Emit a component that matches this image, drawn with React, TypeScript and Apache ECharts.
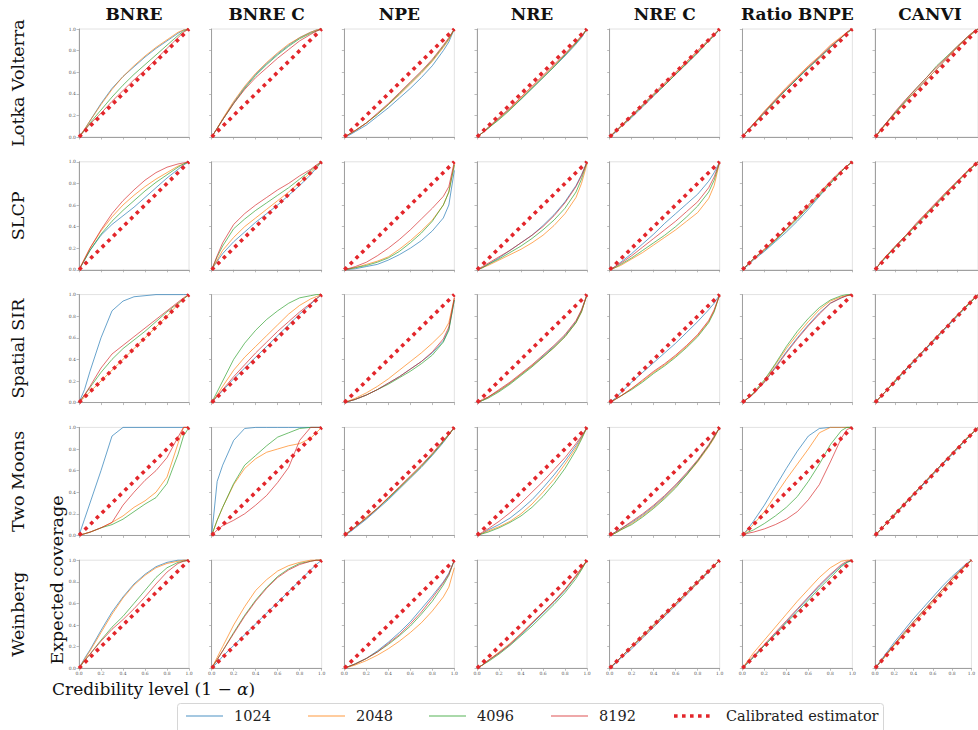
import React, { useEffect, useRef } from "react";
import * as echarts from "echarts";

const methods = ["BNRE", "BNRE C", "NPE", "NRE", "NRE C", "Ratio BNPE", "CANVI"];
const benchmarks = ["Lotka Volterra", "SLCP", "Spatial SIR", "Two Moons", "Weinberg"];
const budgets = ["1024", "2048", "4096", "8192"];
const calibratedName = "Calibrated estimator";
const levels = [0, 0.05, 0.1, 0.2, 0.3, 0.4, 0.5, 0.6, 0.7, 0.8, 0.9, 0.95, 1];

// each panel: [1024, 2048, 4096, 8192] coverage at the credibility levels above
// Lotka Volterra
const lvBnre = [
  [0, 0.07, 0.15, 0.31, 0.45, 0.56, 0.65, 0.74, 0.82, 0.89, 0.96, 0.99, 1],
  [0, 0.07, 0.15, 0.3, 0.44, 0.56, 0.66, 0.75, 0.83, 0.9, 0.97, 0.99, 1],
  [0, 0.06, 0.13, 0.25, 0.37, 0.48, 0.58, 0.67, 0.76, 0.85, 0.94, 0.98, 1],
  [0, 0.06, 0.12, 0.22, 0.33, 0.43, 0.53, 0.62, 0.72, 0.82, 0.92, 0.97, 1],
];
const lvBnreC = [
  [0, 0.08, 0.16, 0.32, 0.46, 0.58, 0.68, 0.77, 0.85, 0.92, 0.97, 0.99, 1],
  [0, 0.08, 0.17, 0.33, 0.47, 0.59, 0.69, 0.78, 0.86, 0.92, 0.97, 0.99, 1],
  [0, 0.08, 0.16, 0.31, 0.45, 0.57, 0.67, 0.76, 0.84, 0.91, 0.96, 0.98, 1],
  [0, 0.08, 0.16, 0.31, 0.44, 0.55, 0.64, 0.73, 0.81, 0.89, 0.95, 0.98, 1],
];
const lvNpe = [
  [0, 0.02, 0.05, 0.11, 0.19, 0.27, 0.36, 0.45, 0.55, 0.66, 0.8, 0.88, 1],
  [0, 0.03, 0.06, 0.13, 0.21, 0.3, 0.39, 0.49, 0.59, 0.7, 0.83, 0.9, 1],
  [0, 0.03, 0.06, 0.13, 0.21, 0.3, 0.4, 0.5, 0.6, 0.71, 0.84, 0.91, 1],
  [0, 0.03, 0.06, 0.13, 0.22, 0.31, 0.41, 0.51, 0.61, 0.72, 0.85, 0.92, 1],
];
const lvNre = [
  [0, 0.04, 0.08, 0.17, 0.26, 0.35, 0.45, 0.55, 0.65, 0.75, 0.86, 0.92, 1],
  [0, 0.04, 0.08, 0.17, 0.26, 0.36, 0.46, 0.56, 0.66, 0.76, 0.87, 0.93, 1],
  [0, 0.04, 0.08, 0.16, 0.25, 0.35, 0.45, 0.55, 0.65, 0.76, 0.87, 0.93, 1],
  [0, 0.04, 0.09, 0.18, 0.27, 0.37, 0.47, 0.57, 0.67, 0.77, 0.88, 0.94, 1],
];
const lvNreC = [
  [0, 0.04, 0.09, 0.18, 0.28, 0.38, 0.48, 0.58, 0.68, 0.78, 0.89, 0.94, 1],
  [0, 0.05, 0.09, 0.19, 0.29, 0.39, 0.49, 0.59, 0.69, 0.79, 0.89, 0.95, 1],
  [0, 0.05, 0.1, 0.19, 0.29, 0.39, 0.48, 0.58, 0.68, 0.78, 0.89, 0.94, 1],
  [0, 0.05, 0.1, 0.2, 0.3, 0.4, 0.5, 0.6, 0.7, 0.8, 0.9, 0.95, 1],
];
const lvRatio = [
  [0, 0.06, 0.12, 0.23, 0.34, 0.44, 0.54, 0.64, 0.74, 0.83, 0.92, 0.97, 1],
  [0, 0.06, 0.12, 0.24, 0.35, 0.46, 0.56, 0.66, 0.75, 0.85, 0.93, 0.97, 1],
  [0, 0.06, 0.11, 0.22, 0.33, 0.44, 0.54, 0.64, 0.73, 0.83, 0.92, 0.96, 1],
  [0, 0.06, 0.12, 0.23, 0.34, 0.45, 0.55, 0.65, 0.74, 0.84, 0.92, 0.97, 1],
];
const lvCanvi = [
  [0, 0.06, 0.12, 0.23, 0.33, 0.43, 0.53, 0.63, 0.73, 0.83, 0.92, 0.96, 1],
  [0, 0.05, 0.11, 0.22, 0.33, 0.43, 0.53, 0.63, 0.73, 0.83, 0.92, 0.96, 1],
  [0, 0.06, 0.12, 0.23, 0.34, 0.45, 0.55, 0.66, 0.75, 0.84, 0.93, 0.97, 1],
  [0, 0.06, 0.12, 0.24, 0.35, 0.45, 0.55, 0.65, 0.74, 0.84, 0.93, 0.97, 1],
];
// SLCP
const slcpBnre = [
  [0, 0.09, 0.18, 0.32, 0.42, 0.5, 0.58, 0.67, 0.76, 0.85, 0.93, 0.97, 1],
  [0, 0.1, 0.2, 0.36, 0.49, 0.6, 0.69, 0.77, 0.84, 0.9, 0.96, 0.98, 1],
  [0, 0.09, 0.18, 0.33, 0.45, 0.55, 0.64, 0.73, 0.81, 0.88, 0.95, 0.98, 1],
  [0, 0.1, 0.2, 0.37, 0.52, 0.64, 0.74, 0.83, 0.9, 0.95, 0.98, 0.99, 1],
];
const slcpBnreC = [
  [0, 0.08, 0.15, 0.26, 0.35, 0.44, 0.52, 0.6, 0.69, 0.78, 0.88, 0.94, 1],
  [0, 0.09, 0.18, 0.3, 0.4, 0.48, 0.56, 0.64, 0.72, 0.81, 0.9, 0.95, 1],
  [0, 0.12, 0.22, 0.38, 0.47, 0.55, 0.62, 0.69, 0.76, 0.84, 0.92, 0.96, 1],
  [0, 0.13, 0.25, 0.42, 0.52, 0.6, 0.67, 0.74, 0.8, 0.87, 0.93, 0.97, 1],
];
const slcpNpe = [
  [0, 0.005, 0.01, 0.03, 0.05, 0.09, 0.14, 0.2, 0.27, 0.36, 0.48, 0.6, 0.92],
  [0, 0.01, 0.02, 0.05, 0.08, 0.12, 0.19, 0.27, 0.36, 0.46, 0.6, 0.72, 0.98],
  [0, 0.01, 0.02, 0.04, 0.07, 0.11, 0.17, 0.25, 0.34, 0.45, 0.6, 0.72, 0.97],
  [0, 0.015, 0.03, 0.07, 0.13, 0.2, 0.28, 0.37, 0.47, 0.57, 0.68, 0.77, 1],
];
const slcpNre = [
  [0, 0.02, 0.05, 0.11, 0.18, 0.25, 0.32, 0.41, 0.51, 0.63, 0.78, 0.88, 1],
  [0, 0.02, 0.04, 0.09, 0.14, 0.19, 0.25, 0.32, 0.41, 0.52, 0.67, 0.8, 0.98],
  [0, 0.02, 0.05, 0.1, 0.16, 0.22, 0.29, 0.37, 0.46, 0.57, 0.72, 0.84, 1],
  [0, 0.03, 0.06, 0.12, 0.18, 0.25, 0.32, 0.4, 0.5, 0.62, 0.77, 0.87, 1],
];
const slcpNreC = [
  [0, 0.03, 0.07, 0.15, 0.24, 0.33, 0.43, 0.52, 0.61, 0.7, 0.82, 0.9, 1],
  [0, 0.02, 0.04, 0.1, 0.16, 0.23, 0.3, 0.37, 0.45, 0.53, 0.66, 0.78, 1],
  [0, 0.02, 0.05, 0.11, 0.18, 0.25, 0.32, 0.4, 0.49, 0.59, 0.72, 0.83, 1],
  [0, 0.03, 0.06, 0.13, 0.21, 0.29, 0.37, 0.45, 0.54, 0.63, 0.76, 0.86, 1],
];
const slcpRatio = [
  [0, 0.04, 0.09, 0.17, 0.26, 0.35, 0.45, 0.56, 0.68, 0.8, 0.91, 0.96, 1],
  [0, 0.05, 0.1, 0.19, 0.28, 0.38, 0.48, 0.59, 0.7, 0.81, 0.91, 0.96, 1],
  [0, 0.05, 0.1, 0.18, 0.27, 0.37, 0.47, 0.58, 0.69, 0.8, 0.91, 0.96, 1],
  [0, 0.05, 0.1, 0.19, 0.28, 0.38, 0.49, 0.6, 0.71, 0.82, 0.92, 0.96, 1],
];
const slcpCanvi = [
  [0, 0.06, 0.11, 0.22, 0.32, 0.42, 0.52, 0.62, 0.72, 0.82, 0.91, 0.96, 1],
  [0, 0.06, 0.12, 0.22, 0.32, 0.42, 0.52, 0.62, 0.72, 0.82, 0.91, 0.96, 1],
  [0, 0.06, 0.11, 0.21, 0.31, 0.41, 0.51, 0.61, 0.71, 0.81, 0.91, 0.95, 1],
  [0, 0.06, 0.12, 0.22, 0.32, 0.43, 0.53, 0.63, 0.73, 0.82, 0.92, 0.96, 1],
];
// Spatial SIR
const sirBnre = [
  [0, 0.12, 0.29, 0.6, 0.85, 0.94, 0.98, 0.99, 1, 1, 1, 1, 1],
  [0, 0.05, 0.1, 0.2, 0.3, 0.4, 0.5, 0.6, 0.7, 0.8, 0.91, 0.96, 1],
  [0, 0.07, 0.14, 0.28, 0.4, 0.5, 0.58, 0.66, 0.75, 0.84, 0.92, 0.96, 1],
  [0, 0.07, 0.15, 0.32, 0.45, 0.53, 0.61, 0.69, 0.77, 0.85, 0.93, 0.97, 1],
];
const sirBnreC = [
  [0, 0.06, 0.11, 0.22, 0.32, 0.42, 0.52, 0.62, 0.72, 0.82, 0.91, 0.96, 1],
  [0, 0.07, 0.15, 0.3, 0.42, 0.52, 0.62, 0.72, 0.82, 0.9, 0.96, 0.98, 1],
  [0, 0.1, 0.2, 0.4, 0.55, 0.67, 0.77, 0.85, 0.92, 0.97, 0.99, 1, 1],
  [0, 0.06, 0.12, 0.24, 0.35, 0.46, 0.56, 0.66, 0.75, 0.84, 0.92, 0.96, 1],
];
const sirNpe = [
  [0, 0.015, 0.03, 0.07, 0.12, 0.18, 0.24, 0.31, 0.38, 0.46, 0.57, 0.68, 0.95],
  [0, 0.02, 0.04, 0.09, 0.15, 0.22, 0.3, 0.38, 0.46, 0.55, 0.65, 0.74, 0.97],
  [0, 0.015, 0.03, 0.07, 0.12, 0.17, 0.23, 0.29, 0.36, 0.44, 0.56, 0.67, 0.95],
  [0, 0.015, 0.03, 0.07, 0.12, 0.18, 0.24, 0.31, 0.38, 0.47, 0.59, 0.7, 0.97],
];
const sirNre = [
  [0, 0.02, 0.05, 0.11, 0.18, 0.26, 0.34, 0.43, 0.52, 0.62, 0.75, 0.85, 1],
  [0, 0.02, 0.05, 0.11, 0.18, 0.26, 0.34, 0.42, 0.51, 0.61, 0.74, 0.84, 1],
  [0, 0.02, 0.04, 0.1, 0.17, 0.25, 0.33, 0.42, 0.51, 0.61, 0.74, 0.84, 1],
  [0, 0.03, 0.05, 0.12, 0.19, 0.27, 0.35, 0.44, 0.53, 0.63, 0.76, 0.86, 1],
];
const sirNreC = [
  [0, 0.04, 0.09, 0.19, 0.28, 0.37, 0.46, 0.55, 0.65, 0.75, 0.86, 0.92, 1],
  [0, 0.03, 0.06, 0.13, 0.2, 0.28, 0.35, 0.43, 0.52, 0.62, 0.75, 0.85, 1],
  [0, 0.03, 0.06, 0.12, 0.19, 0.27, 0.34, 0.42, 0.51, 0.61, 0.74, 0.84, 1],
  [0, 0.03, 0.06, 0.13, 0.21, 0.29, 0.36, 0.44, 0.53, 0.63, 0.76, 0.86, 1],
];
const sirRatio = [
  [0, 0.04, 0.08, 0.19, 0.33, 0.47, 0.6, 0.72, 0.83, 0.92, 0.97, 0.99, 1],
  [0, 0.04, 0.08, 0.2, 0.35, 0.5, 0.63, 0.75, 0.86, 0.94, 0.98, 0.99, 1],
  [0, 0.04, 0.09, 0.21, 0.36, 0.52, 0.66, 0.78, 0.88, 0.95, 0.99, 1, 1],
  [0, 0.04, 0.08, 0.19, 0.32, 0.46, 0.59, 0.71, 0.82, 0.92, 0.97, 0.99, 1],
];
const sirCanvi = [
  [0, 0.05, 0.1, 0.2, 0.3, 0.4, 0.5, 0.6, 0.7, 0.8, 0.9, 0.95, 1],
  [0, 0.05, 0.1, 0.21, 0.31, 0.41, 0.51, 0.61, 0.71, 0.81, 0.91, 0.95, 1],
  [0, 0.05, 0.1, 0.2, 0.31, 0.41, 0.51, 0.61, 0.71, 0.81, 0.9, 0.95, 1],
  [0, 0.05, 0.1, 0.21, 0.31, 0.41, 0.51, 0.61, 0.71, 0.81, 0.91, 0.96, 1],
];
// Two Moons
const tmBnre = [
  [0, 0.15, 0.3, 0.6, 0.92, 1, 1, 1, 1, 1, 1, 1, 1],
  [0, 0.015, 0.03, 0.07, 0.12, 0.18, 0.26, 0.32, 0.4, 0.54, 0.85, 1, 1],
  [0, 0.015, 0.03, 0.07, 0.1, 0.15, 0.22, 0.29, 0.35, 0.48, 0.75, 0.92, 1],
  [0, 0.015, 0.03, 0.07, 0.12, 0.28, 0.4, 0.51, 0.6, 0.72, 0.91, 1, 1],
];
const tmBnreC = [
  [0, 0.5, 0.65, 0.88, 0.99, 1, 1, 1, 1, 1, 1, 1, 1],
  [0, 0.14, 0.26, 0.47, 0.62, 0.71, 0.77, 0.8, 0.83, 0.85, 0.9, 0.95, 1],
  [0, 0.14, 0.26, 0.48, 0.65, 0.74, 0.83, 0.91, 0.95, 0.99, 1, 1, 1],
  [0, 0.05, 0.09, 0.14, 0.2, 0.28, 0.37, 0.49, 0.63, 0.88, 1, 1, 1],
];
const tmNpe = [
  [0, 0.03, 0.07, 0.15, 0.24, 0.33, 0.43, 0.53, 0.63, 0.74, 0.86, 0.93, 1],
  [0, 0.04, 0.08, 0.17, 0.25, 0.35, 0.44, 0.54, 0.64, 0.75, 0.87, 0.93, 1],
  [0, 0.04, 0.08, 0.16, 0.25, 0.34, 0.44, 0.54, 0.64, 0.75, 0.87, 0.93, 1],
  [0, 0.04, 0.08, 0.16, 0.25, 0.35, 0.45, 0.55, 0.65, 0.76, 0.88, 0.94, 1],
];
const tmNre = [
  [0, 0.02, 0.05, 0.1, 0.16, 0.24, 0.33, 0.44, 0.56, 0.69, 0.83, 0.91, 1],
  [0, 0.02, 0.04, 0.08, 0.13, 0.2, 0.29, 0.4, 0.52, 0.66, 0.81, 0.9, 1],
  [0, 0.015, 0.03, 0.07, 0.12, 0.18, 0.26, 0.36, 0.48, 0.62, 0.79, 0.89, 1],
  [0, 0.03, 0.06, 0.13, 0.21, 0.3, 0.4, 0.5, 0.61, 0.72, 0.85, 0.92, 1],
];
const tmNreC = [
  [0, 0.03, 0.06, 0.12, 0.19, 0.27, 0.36, 0.46, 0.57, 0.69, 0.83, 0.91, 1],
  [0, 0.02, 0.05, 0.11, 0.18, 0.26, 0.35, 0.45, 0.56, 0.68, 0.82, 0.9, 1],
  [0, 0.02, 0.05, 0.1, 0.17, 0.25, 0.34, 0.44, 0.56, 0.69, 0.83, 0.91, 1],
  [0, 0.03, 0.06, 0.13, 0.2, 0.28, 0.37, 0.47, 0.58, 0.7, 0.84, 0.92, 1],
];
const tmRatio = [
  [0, 0.06, 0.13, 0.28, 0.45, 0.62, 0.78, 0.92, 0.99, 1, 1, 1, 1],
  [0, 0.05, 0.1, 0.22, 0.37, 0.52, 0.66, 0.8, 0.95, 1, 1, 1, 1],
  [0, 0.03, 0.05, 0.11, 0.18, 0.26, 0.36, 0.5, 0.66, 0.84, 0.97, 1, 1],
  [0, 0.02, 0.03, 0.06, 0.1, 0.15, 0.22, 0.33, 0.47, 0.68, 0.9, 0.98, 1],
];
const tmCanvi = [
  [0, 0.05, 0.1, 0.2, 0.3, 0.4, 0.5, 0.6, 0.7, 0.8, 0.9, 0.95, 1],
  [0, 0.05, 0.1, 0.2, 0.31, 0.41, 0.51, 0.61, 0.71, 0.81, 0.91, 0.95, 1],
  [0, 0.05, 0.1, 0.21, 0.31, 0.41, 0.51, 0.61, 0.71, 0.81, 0.9, 0.95, 1],
  [0, 0.05, 0.1, 0.2, 0.3, 0.41, 0.51, 0.61, 0.71, 0.81, 0.91, 0.95, 1],
];
// Weinberg
const wBnre = [
  [0, 0.09, 0.17, 0.35, 0.52, 0.66, 0.78, 0.87, 0.94, 0.98, 1, 1, 1],
  [0, 0.08, 0.16, 0.33, 0.5, 0.65, 0.77, 0.86, 0.93, 0.97, 0.99, 1, 1],
  [0, 0.07, 0.13, 0.26, 0.38, 0.48, 0.6, 0.72, 0.84, 0.93, 0.98, 0.99, 1],
  [0, 0.07, 0.13, 0.25, 0.36, 0.45, 0.55, 0.66, 0.78, 0.89, 0.97, 0.99, 1],
];
const wBnreC = [
  [0, 0.05, 0.11, 0.21, 0.31, 0.41, 0.51, 0.61, 0.71, 0.81, 0.91, 0.96, 1],
  [0, 0.1, 0.2, 0.4, 0.57, 0.72, 0.82, 0.9, 0.95, 0.98, 1, 1, 1],
  [0, 0.08, 0.16, 0.33, 0.49, 0.63, 0.75, 0.85, 0.92, 0.97, 0.99, 1, 1],
  [0, 0.08, 0.16, 0.32, 0.48, 0.62, 0.74, 0.84, 0.91, 0.96, 0.99, 1, 1],
];
const wNpe = [
  [0, 0.02, 0.04, 0.09, 0.16, 0.24, 0.33, 0.43, 0.55, 0.67, 0.8, 0.88, 1],
  [0, 0.015, 0.03, 0.07, 0.12, 0.18, 0.25, 0.33, 0.42, 0.53, 0.66, 0.75, 0.93],
  [0, 0.02, 0.04, 0.09, 0.15, 0.22, 0.3, 0.39, 0.5, 0.62, 0.77, 0.86, 1],
  [0, 0.02, 0.04, 0.09, 0.15, 0.23, 0.31, 0.41, 0.52, 0.65, 0.79, 0.87, 1],
];
const wNre = [
  [0, 0.03, 0.07, 0.14, 0.22, 0.31, 0.41, 0.51, 0.61, 0.72, 0.85, 0.92, 1],
  [0, 0.03, 0.07, 0.15, 0.23, 0.32, 0.42, 0.52, 0.62, 0.73, 0.85, 0.92, 1],
  [0, 0.03, 0.06, 0.13, 0.21, 0.3, 0.39, 0.49, 0.59, 0.7, 0.83, 0.91, 1],
  [0, 0.03, 0.07, 0.14, 0.22, 0.32, 0.42, 0.52, 0.62, 0.73, 0.86, 0.93, 1],
];
const wNreC = [
  [0, 0.04, 0.09, 0.18, 0.28, 0.38, 0.48, 0.58, 0.68, 0.79, 0.89, 0.95, 1],
  [0, 0.05, 0.1, 0.2, 0.29, 0.39, 0.49, 0.59, 0.69, 0.79, 0.9, 0.95, 1],
  [0, 0.05, 0.1, 0.2, 0.3, 0.4, 0.5, 0.6, 0.7, 0.8, 0.9, 0.95, 1],
  [0, 0.05, 0.1, 0.2, 0.3, 0.4, 0.5, 0.6, 0.7, 0.8, 0.9, 0.95, 1],
];
const wRatio = [
  [0, 0.05, 0.1, 0.21, 0.32, 0.43, 0.54, 0.65, 0.76, 0.86, 0.95, 0.98, 1],
  [0, 0.07, 0.14, 0.26, 0.38, 0.5, 0.62, 0.73, 0.84, 0.93, 0.99, 1, 1],
  [0, 0.05, 0.1, 0.21, 0.31, 0.42, 0.52, 0.63, 0.74, 0.84, 0.94, 0.98, 1],
  [0, 0.06, 0.11, 0.22, 0.33, 0.44, 0.55, 0.66, 0.77, 0.87, 0.96, 0.99, 1],
];
const wCanvi = [
  [0, 0.06, 0.12, 0.24, 0.35, 0.46, 0.56, 0.66, 0.76, 0.85, 0.93, 0.97, 1],
  [0, 0.05, 0.1, 0.21, 0.31, 0.41, 0.51, 0.61, 0.71, 0.81, 0.91, 0.95, 1],
  [0, 0.05, 0.11, 0.22, 0.32, 0.43, 0.53, 0.63, 0.73, 0.83, 0.92, 0.96, 1],
  [0, 0.05, 0.11, 0.22, 0.33, 0.43, 0.53, 0.63, 0.73, 0.83, 0.92, 0.96, 1],
];

const panels = [
  [lvBnre, lvBnreC, lvNpe, lvNre, lvNreC, lvRatio, lvCanvi],
  [slcpBnre, slcpBnreC, slcpNpe, slcpNre, slcpNreC, slcpRatio, slcpCanvi],
  [sirBnre, sirBnreC, sirNpe, sirNre, sirNreC, sirRatio, sirCanvi],
  [tmBnre, tmBnreC, tmNpe, tmNre, tmNreC, tmRatio, tmCanvi],
  [wBnre, wBnreC, wNpe, wNre, wNreC, wRatio, wCanvi],
];

const colors = ["#1f77b4", "#ff7f0e", "#2ca02c", "#d62728"];
const calibColor = "#e3262b";
const SERIF = '"DejaVu Serif", "Liberation Serif", serif';

const GRID_LEFT = 79;
const GRID_TOP = 29;
const COL_STEP = 132.67;
const ROW_STEP = 132.8;
const PW = 110;
const PH = 108;

// legend layout (pixel positions of each entry's sample start)
const LEG_X = [186, 308, 429, 551, 673];
const LEG_Y = 716;
const LEG_SAMPLE = 37;
const LEG_TEXT_GAP = 11;

function buildOption() {
  const grid: any[] = [];
  const xAxis: any[] = [];
  const yAxis: any[] = [];
  const series: any[] = [];
  const graphic: any[] = [];
  const nRows = benchmarks.length;

  benchmarks.forEach((bench, r) => {
    methods.forEach((m, c) => {
      const i = r * methods.length + c;
      grid.push({
        left: GRID_LEFT + COL_STEP * c,
        top: GRID_TOP + ROW_STEP * r,
        width: PW,
        height: PH,
        show: true,
        borderColor: "#e2e2e2",
        borderWidth: 1,
        backgroundColor: "transparent",
      });
      const axisCommon = {
        gridIndex: i,
        type: "value",
        min: 0,
        max: 1,
        interval: 0.2,
        splitLine: { show: false },
        axisLine: { show: true, onZero: false, lineStyle: { color: "#a0a0a0", width: 1 } },
        axisTick: { show: true, length: 2.5, lineStyle: { color: "#a0a0a0", width: 0.7 } },
      };
      xAxis.push({
        ...axisCommon,
        axisLabel: {
          show: r === nRows - 1,
          fontSize: 4.5,
          color: "#555",
          margin: 3,
          fontFamily: SERIF,
          formatter: (v: number) => v.toFixed(1),
        },
      });
      yAxis.push({
        ...axisCommon,
        axisLabel: {
          show: c === 0,
          fontSize: 4.5,
          color: "#555",
          margin: 3,
          fontFamily: SERIF,
          formatter: (v: number) => v.toFixed(1),
        },
      });
      panels[r][c].forEach((vals, k) => {
        series.push({
          type: "line",
          name: budgets[k],
          xAxisIndex: i,
          yAxisIndex: i,
          data: levels.map((x, j) => [x, vals[j]]),
          symbol: "none",
          clip: false,
          silent: true,
          lineStyle: { color: colors[k], width: 0.85, opacity: 0.8 },
          itemStyle: { color: colors[k] },
        });
      });
      series.push({
        type: "line",
        name: calibratedName,
        xAxisIndex: i,
        yAxisIndex: i,
        data: [
          [0, 0],
          [1, 1],
        ],
        symbol: "none",
        clip: false,
        silent: true,
        z: 5,
        lineStyle: { color: calibColor, width: 3.6, type: [3.6, 4.4] },
        itemStyle: { color: calibColor },
      });
    });
  });

  methods.forEach((m, c) => {
    graphic.push({
      type: "text",
      x: GRID_LEFT + COL_STEP * c + PW / 2,
      y: 14,
      style: {
        text: m,
        fontFamily: SERIF,
        fontWeight: "bold",
        fontSize: 17,
        fill: "#111",
        align: "center",
        verticalAlign: "middle",
      },
    });
  });
  benchmarks.forEach((b, r) => {
    graphic.push({
      type: "text",
      x: 18,
      y: GRID_TOP + ROW_STEP * r + PH / 2,
      rotation: Math.PI / 2,
      style: {
        text: b,
        fontFamily: SERIF,
        fontSize: 17.5,
        fill: "#111",
        align: "center",
        verticalAlign: "middle",
      },
    });
  });
  graphic.push({
    type: "text",
    x: 57,
    y: 580,
    rotation: Math.PI / 2,
    style: {
      text: "Expected coverage",
      fontFamily: SERIF,
      fontSize: 17.5,
      fill: "#111",
      align: "center",
      verticalAlign: "middle",
    },
  });
  graphic.push({
    type: "text",
    x: 52,
    y: 689,
    style: {
      text: "{a|Credibility level (1 − }{b|α}{a|)}",
      fill: "#111",
      align: "left",
      verticalAlign: "middle",
      rich: {
        a: { fontFamily: SERIF, fontSize: 17, fill: "#111" },
        b: { fontFamily: SERIF, fontSize: 17, fontStyle: "italic", fill: "#111" },
      },
    },
  });

  // legend box
  graphic.push({
    type: "rect",
    shape: { x: 177.5, y: 703.5, width: 706, height: 30, r: 3 },
    style: { fill: "#ffffff", stroke: "#d6d6d6", lineWidth: 1 },
    z: 10,
  });
  budgets.forEach((b, k) => {
    graphic.push({
      type: "line",
      shape: { x1: LEG_X[k], y1: LEG_Y, x2: LEG_X[k] + LEG_SAMPLE, y2: LEG_Y },
      style: { stroke: colors[k], lineWidth: 1, opacity: 0.8 },
      z: 11,
    });
    graphic.push({
      type: "text",
      x: LEG_X[k] + LEG_SAMPLE + LEG_TEXT_GAP,
      y: LEG_Y,
      style: {
        text: b,
        fontFamily: SERIF,
        fontSize: 14.5,
        fill: "#222",
        align: "left",
        verticalAlign: "middle",
      },
      z: 11,
    });
  });
  graphic.push({
    type: "line",
    shape: { x1: LEG_X[4] + 1, y1: LEG_Y, x2: LEG_X[4] + LEG_SAMPLE, y2: LEG_Y },
    style: { stroke: calibColor, lineWidth: 3.6, lineDash: [3.6, 4.4] },
    z: 11,
  });
  graphic.push({
    type: "text",
    x: LEG_X[4] + LEG_SAMPLE + LEG_TEXT_GAP + 5,
    y: LEG_Y,
    style: {
      text: calibratedName,
      fontFamily: SERIF,
      fontSize: 14.5,
      fill: "#222",
      align: "left",
      verticalAlign: "middle",
    },
    z: 11,
  });

  return {
    animation: false,
    backgroundColor: "#ffffff",
    grid,
    xAxis,
    yAxis,
    series,
    graphic,
  };
}

export default function App() {
  const ref = useRef<HTMLDivElement>(null);
  useEffect(() => {
    document.body.style.margin = "0";
    if (!ref.current) return;
    const chart = echarts.init(ref.current, undefined, { renderer: "svg" });
    chart.setOption(buildOption() as any);
    return () => chart.dispose();
  }, []);
  return <div ref={ref} style={{ width: 978, height: 730 }} />;
}
